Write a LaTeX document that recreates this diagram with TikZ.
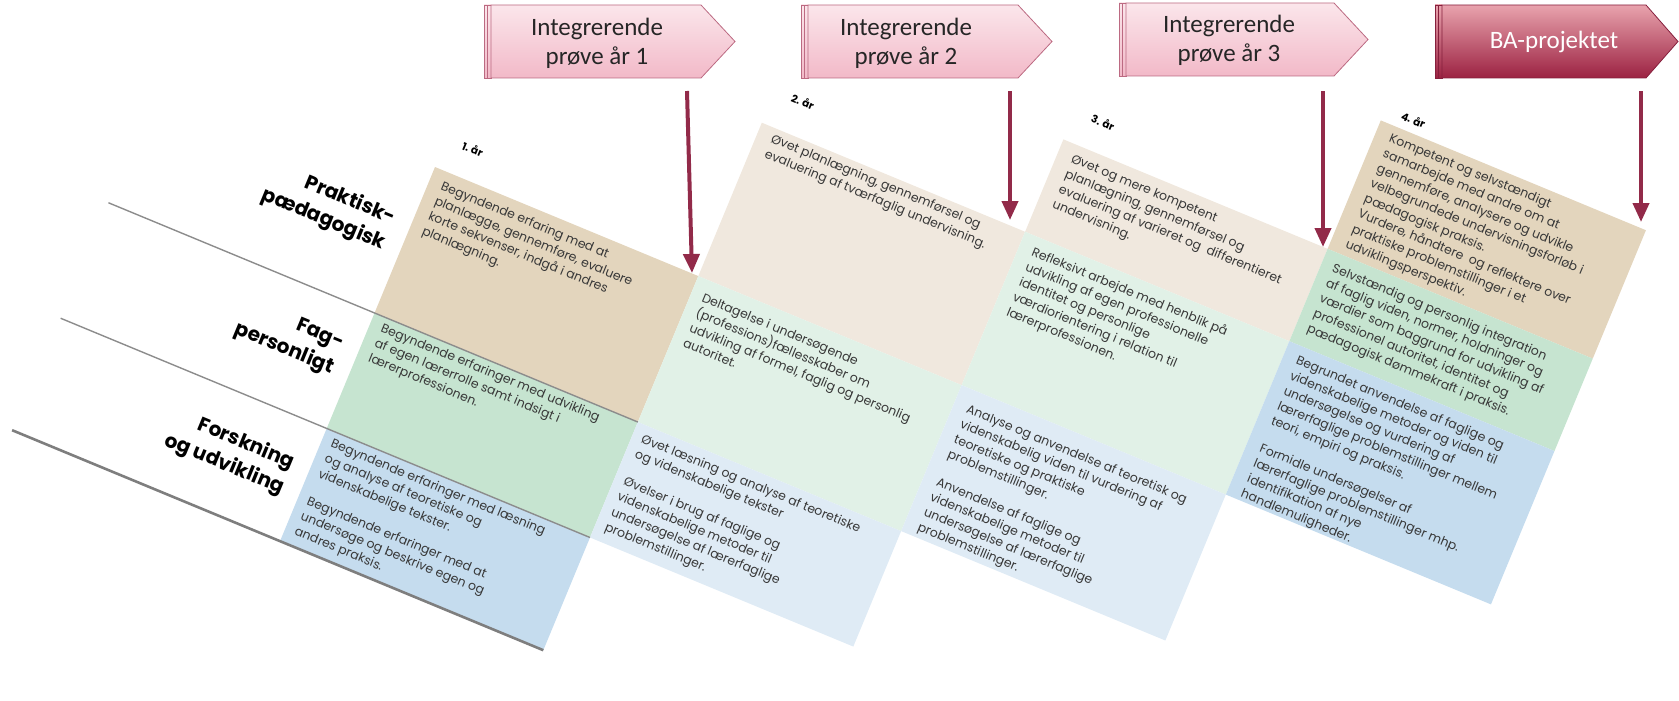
\documentclass[tikz,border=0pt]{standalone}
\usepackage{fontspec}
\setmainfont{Poppins}
\newfontfamily\stagefont{Carlito}
\usetikzlibrary{arrows.meta}
\usetikzlibrary{positioning}

\definecolor{tanS}{HTML}{E3D5BD}
\definecolor{greenS}{HTML}{C6E4D0}
\definecolor{blueS}{HTML}{C5DCEE}
\definecolor{tanL}{HTML}{F0E8DE}
\definecolor{greenL}{HTML}{E1F1E7}
\definecolor{blueL}{HTML}{DFEBF5}
\definecolor{celltxt}{HTML}{383838}
\definecolor{rowgrey}{HTML}{8C8C8C}
\definecolor{arrowred}{HTML}{922A49}
\definecolor{pinkT}{HTML}{FBE6EB}
\definecolor{pinkB}{HTML}{F2B9C8}
\definecolor{pinkline}{HTML}{BC6A82}
\definecolor{wineT}{HTML}{E8A3AD}
\definecolor{wineB}{HTML}{9C2242}
\definecolor{wineline}{HTML}{86203D}

\tikzset{
  pent/.style={draw=pinkline,line width=0.8pt,top color=pinkT,bottom color=pinkB},
  pentdark/.style={draw=wineline,line width=0.8pt,top color=wineT,bottom color=wineB},
  stagetext/.style={font=\stagefont\fontsize{25}{29}\selectfont,align=center,text=black!85},
  cell/.style={anchor=north west,inner sep=0pt,align=left,text=celltxt,font=\fontsize{12.5}{16.3}\selectfont},
  rowlabel/.style={anchor=east,inner sep=0pt,align=right,font=\bfseries\fontsize{20}{27}\selectfont},
  yearlabel/.style={inner sep=0pt,font=\bfseries\fontsize{10.5}{12}\selectfont},
  rowline/.style={draw=rowgrey,line width=1.4pt},
  marker/.style={draw=arrowred,line width=4pt,-{Triangle[width=16pt,length=19pt]}}
}

\begin{document}
\begin{tikzpicture}[x=1pt,y=-1pt]
\useasboundingbox (0,0) rectangle (1679,701);

% exam stages
\draw[pent] (484,5) rectangle (487.5,78);
\draw[pent] (487.5,5) rectangle (491,78);
\draw[pent] (491,5) -- (701,5) -- (735,41.5) -- (701,78) -- (491,78) -- cycle;
\node[stagetext] (p1) at (597,43) {Integrerende\\prøve år 1};

\draw[pent] (801,5) rectangle (804.5,78);
\draw[pent] (804.5,5) rectangle (808,78);
\draw[pent] (808,5) -- (1018,5) -- (1052,41.5) -- (1018,78) -- (808,78) -- cycle;
\node[stagetext] (p2) at (906,43) {Integrerende\\prøve år 2};

\draw[pent] (1119,3) rectangle (1122.5,76);
\draw[pent] (1122.5,3) rectangle (1126,76);
\draw[pent] (1126,3) -- (1334,3) -- (1368,39.5) -- (1334,76) -- (1126,76) -- cycle;
\node[stagetext] (p3) at (1229,40) {Integrerende\\prøve år 3};

\draw[pentdark] (1435,5) rectangle (1438.5,78);
\draw[pentdark] (1438.5,5) rectangle (1442,78);
\draw[pentdark] (1442,5) -- (1646,5) -- (1678,41.5) -- (1646,78) -- (1442,78) -- cycle;
\node[stagetext,text=white] (p4) at (1554,42) {BA-projektet};

% the tilted table
\begin{scope}[shift={(435,167)},rotate=-22.5,transform shape]
% 1. aar
\fill[tanS] (0,0) rectangle (285,158);
\fill[greenS] (0,158) rectangle (285,283);
\fill[blueS] (0,283) rectangle (285,405);
% 2. aar
\fill[tanL] (285,-166) rectangle (570,0);
\fill[greenL] (285,0) rectangle (570,158);
\fill[blueL] (285,158) rectangle (570,283);
% 3. aar
\fill[tanL] (570,-266) rectangle (856,-166);
\fill[greenL] (570,-166) rectangle (856,0);
\fill[blueL] (570,0) rectangle (856,158);
% 4. aar
\fill[tanS] (856,-405) rectangle (1143,-266);
\fill[greenS] (856,-266) rectangle (1143,-166);
\fill[blueS] (856,-166) rectangle (1143,0);

\draw[rowline] (-288,158) -- (285,158);
\draw[rowline] (-288,283) -- (285,283);
\draw[rowline,line width=2.6pt,draw=rowgrey!90!black] (-290,405) -- (285,405);

\node[rowlabel] (r1) at (-17,77.5) {Praktisk-\\pædagogisk};
\node[rowlabel] (r2) at (-17,213) {Fag-\\personligt};
\node[rowlabel] (r3) at (-17,342) {Forskning\\og udvikling};

\node[yearlabel] (y1) at (28,-31) {1. år};
\node[yearlabel] (y2) at (315,-201) {2. år};
\node[yearlabel] (y3) at (600,-297) {3. år};
\node[yearlabel] (y4) at (886,-418) {4. år};

\node[cell] (t1a) at (13,9) {Begyndende erfaring med at\\planlægge, gennemføre, evaluere\\korte sekvenser, indgå i andres\\planlægning.};
\node[cell] (t1b) at (12,163) {Begyndende erfaringer med udvikling\\af egen lærerrolle samt indsigt i\\lærerprofessionen.};
\node[cell] (t1c) at (10,289) {Begyndende erfaringer med læsning\\og analyse af teoretiske og\\videnskabelige tekster.\\[13.5pt]Begyndende erfaringer med at\\undersøge og beskrive egen og\\andres praksis.};

\node[cell] (t2a) at (300,-161) {Øvet planlægning, gennemførsel og\\evaluering af tværfaglig undervisning.};
\node[cell] (t2b) at (297,12.5) {Deltagelse i undersøgende\\(professions)fællesskaber om\\udvikling af formel, faglig og personlig\\autoritet.};
\node[cell] (t2c) at (295,166) {Øvet læsning og analyse af teoretiske\\og videnskabelige tekster\\[13.5pt]Øvelser i brug af faglige og\\videnskabelige metoder til\\undersøgelse af lærerfaglige\\problemstillinger.};

\node[cell] (t3a) at (585,-257) {Øvet og mere kompetent\\planlægning, gennemførsel og\\evaluering af varieret og\ \ differentieret\\undervisning.};
\node[cell] (t3b) at (584,-157) {Refleksivt arbejde med henblik på\\udvikling af egen professionelle\\identitet og personlige\\værdiorientering i relation til\\lærerprofessionen.};
\node[cell] (t3c) at (584,14) {Analyse og anvendelse af teoretisk og\\videnskabelig viden til vurdering af\\teoretiske og praktiske\\problemstillinger.\\[13.5pt]Anvendelse af faglige og\\videnskabelige metoder til\\undersøgelse af lærerfaglige\\problemstillinger.};

\node[cell] (t4a) at (871,-398) {Kompetent og selvstændigt\\samarbejde med andre om at\\gennemføre, analysere og udvikle\\velbegrundede undervisningsforløb i\\pædagogisk praksis.\\Vurdere, håndtere\ \ og reflektere over\\praktiske problemstillinger i et\\udviklingsperspektiv.};
\node[cell] (t4b) at (868,-256) {Selvstændig og personlig integration\\af faglig viden, normer, holdninger og\\værdier som baggrund for udvikling af\\professionel autoritet, identitet og\\pædagogisk dømmekraft i praksis.};
\node[cell] (t4c) at (870,-157) {Begrundet anvendelse af faglige og\\videnskabelige metoder og viden til\\undersøgelse og vurdering af\\lærerfaglige problemstillinger mellem\\teori, empiri og praksis.\\[13.5pt]Formidle undersøgelser af\\lærerfaglige problemstillinger mhp.\\identifikation af nye\\handlemuligheder.};
\end{scope}

% markers from stage to table
\coordinate (s1) at (687,91);
\coordinate (e1) at (692,273);
\coordinate (s2) at (1010,91);
\coordinate (e2) at (1010,220);
\coordinate (s3) at (1323,91);
\coordinate (e3) at (1323,247);
\coordinate (s4) at (1641,91);
\coordinate (e4) at (1641,222);
\draw[marker] (s1) -- (e1);
\draw[marker] (s2) -- (e2);
\draw[marker] (s3) -- (e3);
\draw[marker] (s4) -- (e4);

\end{tikzpicture}
\end{document}
